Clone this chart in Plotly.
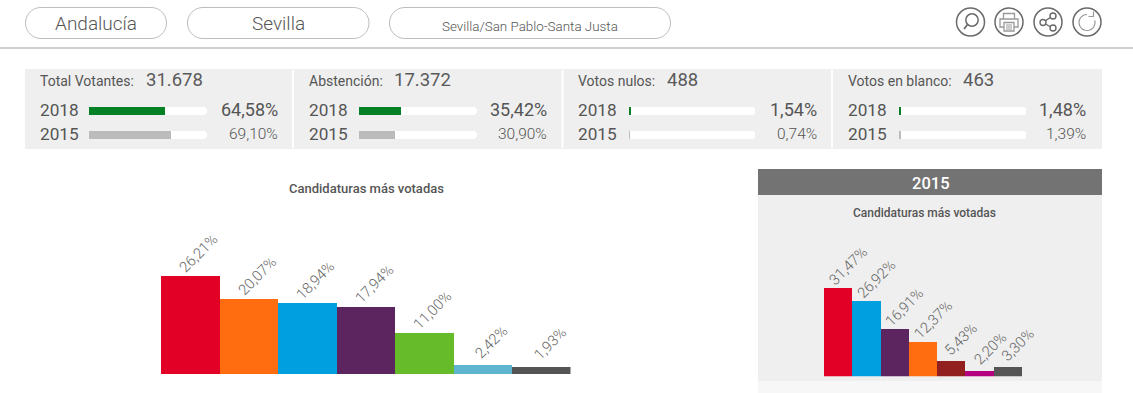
import math
import plotly.graph_objects as go

W, H = 1133, 393
FONT = "Roboto"
DARK = "#555555"

# ---- data ----
breadcrumbs = ["Andalucía", "Sevilla", "Sevilla/San Pablo-Santa Justa"]
years = ["2015", "2018"]
panel_titles = ["Total Votantes:", "Abstención:", "Votos nulos:", "Votos en blanco:"]
panel_counts = ["31.678", "17.372", "488", "463"]
pct_2018 = [64.58, 35.42, 1.54, 1.48]
pct_2015 = [69.10, 30.90, 0.74, 1.39]

cands_2018 = ["Candidatura 1", "Candidatura 2", "Candidatura 3", "Candidatura 4",
              "Candidatura 5", "Candidatura 6", "Candidatura 7"]
votes_2018 = [26.21, 20.07, 18.94, 17.94, 11.00, 2.42, 1.93]
colors_2018 = ["#E30026", "#FF6D10", "#00A0E0", "#5C2560", "#66BB2A", "#5FB4CF", "#555555"]

cands_2015 = ["Candidatura A", "Candidatura B", "Candidatura C", "Candidatura D",
              "Candidatura E", "Candidatura F", "Candidatura G"]
votes_2015 = [31.47, 26.92, 16.91, 12.37, 5.43, 2.20, 3.30]
colors_2015 = ["#E30026", "#00A0E0", "#5C2560", "#FF6D10", "#92201F", "#B4007E", "#555555"]

chart_title = "Candidaturas más votadas"
right_header = "2015"

# ---- layout geometry (pixels) ----
px = lambda x: x / W
py = lambda y: 1 - y / H


def comma(v):
    return f"{v:.2f}".replace(".", ",") + "%"


shapes, annots = [], []


def text(x, y, s, size, color=DARK, anchor="left", weight=400):
    annots.append(dict(x=px(x), y=py(y), xref="paper", yref="paper", text=s, showarrow=False,
                       xanchor=anchor, yanchor="middle", borderpad=0,
                       font=dict(family=FONT, size=size, color=color, weight=weight)))


def rect(x0, y0, x1, y1, fill):
    shapes.append(dict(type="rect", xref="paper", yref="paper", x0=px(x0), x1=px(x1), y0=py(y0), y1=py(y1),
                       fillcolor=fill, line=dict(width=0), layer="below"))


def circle(cx, cy, r, color="#666666", w=1.4, fill=None):
    shapes.append(dict(type="circle", xref="paper", yref="paper", x0=px(cx - r), x1=px(cx + r),
                       y0=py(cy + r), y1=py(cy - r), line=dict(color=color, width=w),
                       fillcolor=fill or "rgba(0,0,0,0)"))


def path(pts, color="#666666", w=1.4, close=False, fill=None):
    d = "M " + " L ".join(f"{px(x):.5f},{py(y):.5f}" for x, y in pts) + (" Z" if close else "")
    shapes.append(dict(type="path", xref="paper", yref="paper", path=d,
                       line=dict(color=color, width=w), fillcolor=fill or "rgba(0,0,0,0)"))


def pill(x0, x1, y0, y1, color="#BDBDBD"):
    r = (y1 - y0) / 2
    pts = []
    for i in range(0, 25):
        a = -math.pi / 2 + math.pi * i / 24
        pts.append((x1 - r + r * math.cos(a), (y0 + y1) / 2 + r * math.sin(a)))
    for i in range(0, 25):
        a = math.pi / 2 + math.pi * i / 24
        pts.append((x0 + r + r * math.cos(a), (y0 + y1) / 2 + r * math.sin(a)))
    path(pts, color=color, w=1, close=True)


# header
pill(25.5, 166.5, 7.5, 38.5)
pill(187.5, 369, 7.5, 38.5)
pill(389.5, 670.5, 7.5, 38.5)
text(96, 24, breadcrumbs[0], 19, anchor="center", weight=300)
text(278, 24, breadcrumbs[1], 19, anchor="center", weight=300)
text(529.5, 26, breadcrumbs[2], 13.4, anchor="center", weight=300)
rect(0, 47, W, 49, "#CFCFCF")

# icons
for cx in (970.5, 1009, 1048, 1087):
    circle(cx, 22, 14, color="#6A6A6A", w=1.5)
circle(972, 20, 6.2, color="#6A6A6A", w=1.5)
path([(967.5, 24.5), (964, 29)], color="#6A6A6A", w=1.8)
# printer
path([(1003.5, 19), (1003.5, 13.5), (1014.5, 13.5), (1014.5, 19)], color="#999999", w=1.3)
path([(1000, 19), (1018, 19), (1018, 27), (1000, 27)], color="#999999", w=1.3, close=True)
path([(1004, 22.5), (1014, 22.5), (1014, 31), (1004, 31)], color="#999999", w=1.3, close=True, fill="#FFFFFF")
for yy in (25, 27, 29):
    path([(1006, yy), (1012, yy)], color="#999999", w=1)
# share
path([(1052.5, 16), (1043, 22.5), (1052.5, 28)], color="#6A6A6A", w=1.4)
for cx, cy in ((1053, 16), (1043, 22.5), (1053, 28)):
    circle(cx, cy, 3, color="#6A6A6A", w=1.4, fill="#FFFFFF")
# refresh
arc = [(1087 + 8 * math.cos(math.radians(a)), 22.5 + 8 * math.sin(math.radians(a))) for a in range(-15, 285, 15)]
path(arc, color="#999999", w=1.2)
path([(1088.5, 16.5), (1093.5, 16.5), (1093.5, 11.5)], color="#999999", w=1.2)

# stat panels
rect(25, 69, 1102, 149, "#EFEFEF")
for sx in (293, 562.5, 832):
    rect(sx - 1, 70, sx + 1, 148, "#FFFFFF")

panel_left = [39, 308, 577, 847]
count_left = [145, 393, 666, 962]
pct_right = [279, 548, 818, 1087]
bar_span = [(89, 207), (359, 477), (628.5, 755.5), (898.5, 1026)]

traces = []
layout_axes = {}
for i in range(4):
    n = i + 1
    sx = "" if n == 1 else str(n)
    layout_axes[f"xaxis{sx}"] = dict(domain=[px(bar_span[i][0]), px(bar_span[i][1])], range=[0, 100],
                                     visible=False, fixedrange=True, anchor=f"y{sx}")
    layout_axes[f"yaxis{sx}"] = dict(domain=[py(147), py(99)], type="category", categoryorder="array",
                                     categoryarray=years, range=[-0.5, 1.5], visible=False,
                                     fixedrange=True, anchor=f"x{sx}")
    traces.append(go.Bar(y=years, x=[100, 100], orientation="h", width=0.32, xaxis=f"x{sx}", yaxis=f"y{sx}",
                         marker=dict(color="#FFFFFF", cornerradius="50%", line=dict(width=0)),
                         hoverinfo="skip", showlegend=False))
    traces.append(go.Bar(y=years, x=[pct_2015[i], pct_2018[i]], orientation="h", width=0.32,
                         xaxis=f"x{sx}", yaxis=f"y{sx}",
                         marker=dict(color=["#BBBBBB", "#058025"], cornerradius="50%" if pct_2018[i] > 5 else 0,
                                     line=dict(width=0)),
                         showlegend=False))
    text(panel_left[i], 81, panel_titles[i], 14, weight=400)
    text(count_left[i], 80, panel_counts[i], 18.5, weight=400, color="#5A5A5A")
    text(panel_left[i], 110, years[1], 17.2, weight=400)
    text(panel_left[i], 134, years[0], 17.2, weight=400)
    text(pct_right[i], 110, comma(pct_2018[i]), 18, anchor="right", weight=400)
    text(pct_right[i], 134, comma(pct_2015[i]), 15.5, anchor="right", weight=300)

# right column background
rect(758, 169, 1102, 195, "#737373")
rect(758, 195, 1102, 381, "#EFEFEF")
rect(758, 381, 1102, 393, "#F7F7F7")
text(931, 183, right_header, 16.5, color="#FFFFFF", anchor="center", weight=500)
text(366, 188, chart_title, 13, anchor="center", weight=500)
text(924, 213, chart_title, 12, anchor="center", weight=500)

# 2018 chart: 3.74 px per point
layout_axes["xaxis5"] = dict(domain=[px(161), px(570.5)], type="category", categoryorder="array",
                             categoryarray=cands_2018, range=[-0.5, 6.5], visible=False, fixedrange=True,
                             anchor="y5")
layout_axes["yaxis5"] = dict(domain=[py(374), py(261.8)], range=[0, 30], visible=False, fixedrange=True,
                             anchor="x5")
traces.append(go.Bar(x=cands_2018, y=votes_2018, width=1, xaxis="x5", yaxis="y5",
                     marker=dict(color=colors_2018, line=dict(width=0)), showlegend=False))
# 2015 chart: 2.82 px per point
layout_axes["xaxis6"] = dict(domain=[px(824), px(1022)], type="category", categoryorder="array",
                             categoryarray=cands_2015, range=[-0.5, 6.5], visible=False, fixedrange=True,
                             anchor="y6")
layout_axes["yaxis6"] = dict(domain=[py(376.3), py(263.5)], range=[0, 40], visible=False, fixedrange=True,
                             anchor="x6")
traces.append(go.Bar(x=cands_2015, y=votes_2015, width=1, xaxis="x6", yaxis="y6",
                     marker=dict(color=colors_2015, line=dict(width=0)), showlegend=False))

for cats, vals, ax, ay, size, xs, ys in ((cands_2018, votes_2018, "x5", "y5", 14.8, 8.5, 23),
                                         (cands_2015, votes_2015, "x6", "y6", 14.8, 10, 21.5)):
    for c, v in zip(cats, vals):
        annots.append(dict(x=c, y=v, xref=ax, yref=ay, text=comma(v), showarrow=False, textangle=-45,
                           xanchor="center", yanchor="middle", xshift=xs, yshift=ys, borderpad=0,
                           font=dict(family=FONT, size=size, color="#666666", weight=300)))

fig = go.Figure(traces)
fig.update_layout(width=W, height=H, margin=dict(l=0, r=0, t=0, b=0), autosize=False,
                  paper_bgcolor="#FFFFFF", plot_bgcolor="rgba(0,0,0,0)", barmode="overlay",
                  bargap=0, showlegend=False, shapes=shapes, annotations=annots,
                  font=dict(family=FONT), **layout_axes)

fig.write_html("out.html", config={"displayModeBar": False},
               post_script="document.body.style.margin='0';document.documentElement.style.overflow='hidden';")
